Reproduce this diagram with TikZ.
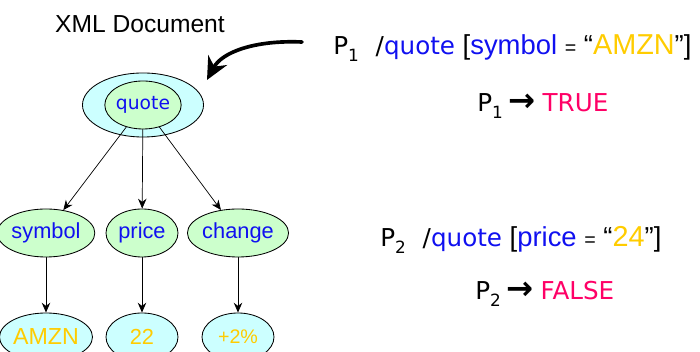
\documentclass[tikz,border=0pt]{standalone}
\usepackage{fontspec}
\setmainfont{Liberation Sans}
\newfontfamily\tahoma{DejaVu Sans}
\usepackage{xcolor}
\usetikzlibrary{shapes.geometric, arrows.meta}
\definecolor{tag_blue}{HTML}{1010F0}
\definecolor{val_gold}{HTML}{FFCC00}
\definecolor{res_pink}{HTML}{FF0066}
\definecolor{elem_green}{HTML}{CCFFCC}
\definecolor{doc_cyan}{HTML}{CCFFFF}

% small helpers for the predicate lines
\newcommand{\pvar}[1]{{\tahoma\fontsize{17.5}{20}\selectfont P\raisebox{-0.45ex}{\fontsize{12}{12}\selectfont #1}}}
\newcommand{\tagname}[1]{\textcolor{tag_blue}{#1}}
\newcommand{\litval}[1]{\textcolor{val_gold}{\fontsize{20.5}{22}\selectfont #1}}
\newcommand{\yields}{{\fontsize{23}{24}\selectfont\textbf{→}}}

\begin{document}
\begin{tikzpicture}[
                x=0.025cm,
                y=-0.025cm,
                line cap=round,
                line join=round,
                elem/.style={ellipse, draw, line width=0.6pt, fill=elem_green,
                    minimum width=1.8cm, minimum height=1.2cm, inner sep=0pt,
                    text=tag_blue, font=\fontsize{15.5}{17}\selectfont},
                leaf/.style={elem, fill=doc_cyan, text=val_gold},
                edge/.style={->, >={Stealth[length=7pt, width=6pt]}, line width=0.5pt}
            ]
            \clip (0,0) rectangle (700,352);

            % Document root with its quote element
            \node[ellipse, draw, line width=0.6pt, fill=doc_cyan, minimum width=3.025cm,
                minimum height=1.6cm] (doc) at (143,105) {};
            \node[elem, font=\tahoma\fontsize{13.3}{15}\selectfont] (quote) at (143,105) {quote};
            \node[above] at (140,38) {\fontsize{17.5}{20}\selectfont XML Document};

            % Child elements
            \node[elem] (symbol) at (46,233) {symbol};
            \node[elem] (price) at (142,233) {price};
            \node[elem] (change) at (238,233) {change};

            % Text values
            \node[leaf, font=\fontsize{16.5}{18}\selectfont] (amzn) at (46,337) {AMZN};
            \node[leaf] (v22) at (142,337) {22};
            \node[leaf, font=\fontsize{14}{16}\selectfont] (pct) at (238,337) {+2\%};

            \draw[edge] (quote) -- (symbol);
            \draw[edge] (quote) -- (price);
            \draw[edge] (quote) -- (change);
            \draw[edge] (symbol) -- (amzn);
            \draw[edge] (price) -- (v22);
            \draw[edge] (change) -- (pct);

            % Predicates and their results
            \node[anchor=base west, inner sep=0pt] (pone) at (333,55)
                {\fontsize{19.5}{22}\selectfont\pvar{1}\hspace{12pt}{\tahoma\fontsize{17.5}{20}\selectfont /\tagname{quote}} [\tagname{symbol} {\fontsize{14}{16}\selectfont =} “\litval{AMZN}”]};
            \node[anchor=base west, inner sep=0pt] (rone) at (477,112)
                {\pvar{1}\hspace{4pt}{\tahoma\yields\hspace{5pt}\fontsize{17.5}{20}\selectfont\textcolor{res_pink}{TRUE}}};
            \node[anchor=base west, inner sep=0pt] (ptwo) at (380,247)
                {\fontsize{19.5}{22}\selectfont\pvar{2}\hspace{12pt}{\tahoma\fontsize{17.5}{20}\selectfont /\tagname{quote}} [\tagname{price} {\fontsize{14}{16}\selectfont =} “\litval{24}”]};
            \node[anchor=base west, inner sep=0pt] (rtwo) at (475,300)
                {\pvar{2}\hspace{4pt}{\tahoma\yields\hspace{5pt}\fontsize{17.5}{20}\selectfont\textcolor{res_pink}{FALSE}}};

            % Pointer from the first predicate to the document
            \coordinate (from) at (302,42);
            \coordinate (tip) at (207,80);
            \draw[line width=2.6pt, -{Stealth[length=16pt, width=15pt]}]
                (from) .. controls (255,40) and (222,52) .. (tip);
        \end{tikzpicture}
\end{document}
